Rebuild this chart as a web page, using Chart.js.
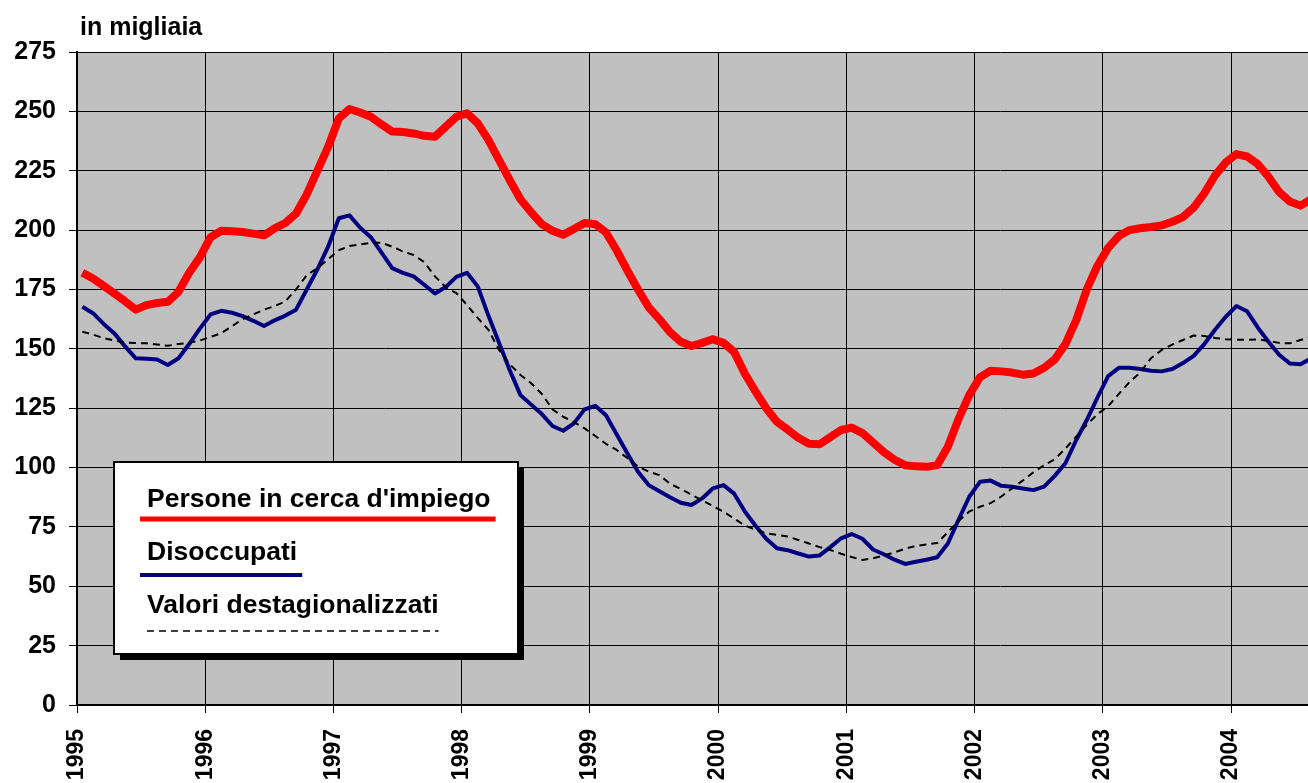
<!DOCTYPE html>
<html lang="it">
<head>
<meta charset="utf-8">
<title>Persone in cerca d'impiego e disoccupati</title>
<script src="https://cdn.jsdelivr.net/npm/chart.js@4.4.0/dist/chart.umd.min.js"></script>
<style>
  html, body { margin: 0; padding: 0; background: #fff; }
  #wrap { position: relative; width: 1308px; height: 783px; overflow: hidden; }
  #unit { position: absolute; left: 80px; top: 12px; font: bold 25px "Liberation Sans", Arial, sans-serif; color: #000; }
  canvas { display: block; }
</style>
</head>
<body>
<div id="wrap">
  <canvas id="chart" width="1308" height="783"></canvas>
  <div id="unit">in migliaia</div>
</div>
<script>
// Monthly series, Jan 1995 - Aug 2004 (thousands)
const yearLabels = ['1995', '1996', '1997', '1998', '1999', '2000', '2001', '2002', '2003', '2004'];

const personeInCerca = [
  182, 179.6, 176.5, 173.3, 170, 166.5, 168.4, 169.3, 169.8, 174, 182, 188.5,
  197, 199.7, 199.5, 199.2, 198.5, 197.8, 200.7, 203, 207, 215, 225, 235,
  247, 251, 249.5, 247.7, 244.5, 241.5, 241.3, 240.7, 239.7, 239.3, 243.5, 247.7,
  249.2, 245, 238, 229.5, 221, 213, 207.5, 202.5, 199.7, 198, 200.5, 203,
  202.5, 199, 191.5, 183, 175, 167.5, 162.5, 157, 153, 151.2, 152.5, 154,
  152.5, 148.7, 139.5, 132, 125, 119.3, 116, 112.5, 110, 109.8, 112.8, 115.8,
  116.8, 114.5, 110.5, 106.5, 103.3, 101, 100.5, 100.3, 101, 108.8, 120.5, 130.5,
  138, 140.8, 140.5, 140, 139.1, 139.6, 142, 145.5, 152, 162, 175, 185,
  192.5, 197.5, 200, 200.8, 201.3, 202, 203.5, 205.5, 209.5, 215.5, 223, 228.5,
  232, 231, 227.8, 222.5, 216, 212, 210.3, 213
];

const disoccupati = [
  167.7, 165, 160.5, 156.5, 151, 146, 145.8, 145.5, 143.2, 146, 152, 158.5,
  164.5, 166, 165.2, 163.8, 161.8, 159.6, 162, 164, 166.5, 175, 183.5, 193,
  205, 206.2, 201, 197, 190.5, 184, 182, 180.5, 177, 173.3, 176, 180.3,
  182, 176.3, 164, 152.5, 141, 130.5, 126.5, 122.5, 117.5, 115.5, 118.6, 124.5,
  126, 122, 114, 106, 98.2, 92.6, 90, 87.5, 85.2, 84.2, 87, 91.2,
  92.6, 89, 81.5, 75.5, 70, 66, 65.2, 63.8, 62.5, 63, 66.5, 70.2,
  72, 70, 65.5, 63.5, 61.2, 59.4, 60.3, 61.2, 62.2, 68, 78, 87.7,
  94, 94.5, 92.3, 91.9, 91.2, 90.5, 92, 96.5, 101.8, 111.5, 120, 129.5,
  138.5, 142, 142, 141.5, 140.8, 140.5, 141.5, 144, 147, 152, 158, 163.5,
  168, 165.8, 159, 153, 147.5, 143.8, 143.5, 146
];

const destagionalizzati = [
  157.2, 156, 154.5, 153.5, 152.6, 152.4, 152.3, 151.8, 151.3, 152, 152.6, 153.5,
  155, 156.6, 159.5, 162.5, 164.5, 166.5, 168, 170, 175, 181, 184, 187.7,
  191.5, 193.3, 194, 194.6, 194.7, 193, 191, 189.5, 186.5, 180.5, 176, 173.5,
  168.4, 163, 158, 149.5, 143.5, 139, 135.5, 131, 124.5, 121.4, 119.2, 116.5,
  113.3, 110, 107.4, 104, 100.4, 98.3, 96.8, 93.2, 91, 88.6, 86.2, 83.8,
  81.4, 78.5, 75.6, 73.8, 72.3, 71.7, 71, 69.5, 68, 66.5, 65.3, 63.7,
  62.3, 61.1, 61.8, 62.9, 64.3, 65.8, 67, 67.6, 68.2, 72.8, 77.5, 81.5,
  83.5, 85, 87.8, 91.2, 94.5, 98, 101, 103.5, 108, 113, 118, 122.5,
  125.8, 131, 136, 140, 146, 149.5, 151.8, 153.7, 155.6, 155.4, 154.6, 154,
  153.8, 153.8, 154, 153.3, 152.5, 152.3, 153.7, 155
];

// points sit in the middle of each month slot
function toPoints(values) {
  return values.map(function (v, i) { return { x: i + 0.5, y: v }; });
}

const font = '"Liberation Sans", Arial, sans-serif';

// grey plot background
const plotBg = {
  id: 'plotBg',
  beforeDraw: function (chart) {
    const a = chart.chartArea, ctx = chart.ctx;
    ctx.save();
    ctx.fillStyle = '#c0c0c0';
    ctx.fillRect(a.left, a.top, a.right - a.left, a.bottom - a.top);
    ctx.restore();
  }
};

// boxed legend with shadow, line drawn under each label
const boxLegend = {
  id: 'boxLegend',
  afterDatasetsDraw: function (chart) {
    const ctx = chart.ctx, a = chart.chartArea;
    const x = a.left + 37, y = a.top + 410, w = 404, h = 192;
    ctx.save();
    ctx.fillStyle = '#000';
    ctx.fillRect(x + 6, y + 6, w, h);
    ctx.fillStyle = '#fff';
    ctx.fillRect(x, y, w, h);
    ctx.lineWidth = 2;
    ctx.strokeStyle = '#000';
    ctx.strokeRect(x, y, w, h);
    ctx.font = 'bold 26.5px ' + font;
    ctx.textBaseline = 'alphabetic';
    chart.data.datasets.forEach(function (ds, k) {
      const tx = x + 33, ty = y + 45 + k * 53;
      ctx.fillStyle = '#000';
      ctx.fillText(ds.label, tx, ty);
      const tw = ctx.measureText(ds.label).width;
      const ly = ty + 12 + k * 3;
      ctx.beginPath();
      ctx.lineWidth = ds.borderDash ? 1.5 : Math.min(ds.borderWidth, 5);
      ctx.strokeStyle = ds.borderColor;
      ctx.setLineDash(ds.borderDash || []);
      if (ds.borderDash) {
        ctx.moveTo(tx, ly); ctx.lineTo(tx + tw, ly);
      } else {
        ctx.moveTo(tx - 7, ly); ctx.lineTo(tx + tw + 5, ly);
      }
      ctx.stroke();
    });
    ctx.restore();
  }
};

new Chart(document.getElementById('chart'), {
  type: 'line',
  data: {
    datasets: [
      {
        label: "Persone in cerca d'impiego",
        data: toPoints(personeInCerca),
        borderColor: '#ff0000',
        borderWidth: 8,
        order: 2
      },
      {
        label: 'Disoccupati',
        data: toPoints(disoccupati),
        borderColor: '#000080',
        borderWidth: 4,
        order: 1
      },
      {
        label: 'Valori destagionalizzati',
        data: toPoints(destagionalizzati),
        borderColor: '#000000',
        borderWidth: 2,
        borderDash: [7, 5],
        order: 0
      }
    ]
  },
  options: {
    responsive: false,
    animation: false,
    devicePixelRatio: 1,
    layout: { padding: { top: 52, left: 0, right: 0, bottom: 0 } },
    elements: {
      point: { radius: 0 },
      line: { tension: 0, borderJoinStyle: 'round', borderCapStyle: 'butt' }
    },
    scales: {
      x: {
        type: 'linear',
        min: 0,
        max: 115.2,
        afterBuildTicks: function (scale) {
          scale.ticks = yearLabels.map(function (_, k) { return { value: k * 12 }; });
        },
        afterFit: function (scale) { scale.height = 78; },
        grid: { color: '#000', lineWidth: 1, tickLength: 8, drawTicks: true },
        border: { color: '#000', width: 2 },
        ticks: {
          color: '#000',
          font: { family: font, size: 23, weight: 'bold' },
          minRotation: 90,
          maxRotation: 90,
          padding: 16,
          autoSkip: false,
          callback: function (value, index) { return yearLabels[index]; }
        }
      },
      y: {
        min: 0,
        max: 275,
        afterFit: function (scale) { scale.width = 77; },
        grid: { color: '#000', lineWidth: 1, tickLength: 8 },
        border: { color: '#000', width: 2 },
        ticks: {
          stepSize: 25,
          color: '#000',
          padding: 13,
          font: { family: font, size: 25, weight: 'bold' }
        }
      }
    },
    plugins: {
      legend: { display: false },
      tooltip: { enabled: false }
    }
  },
  plugins: [plotBg, boxLegend]
});
</script>
</body>
</html>
